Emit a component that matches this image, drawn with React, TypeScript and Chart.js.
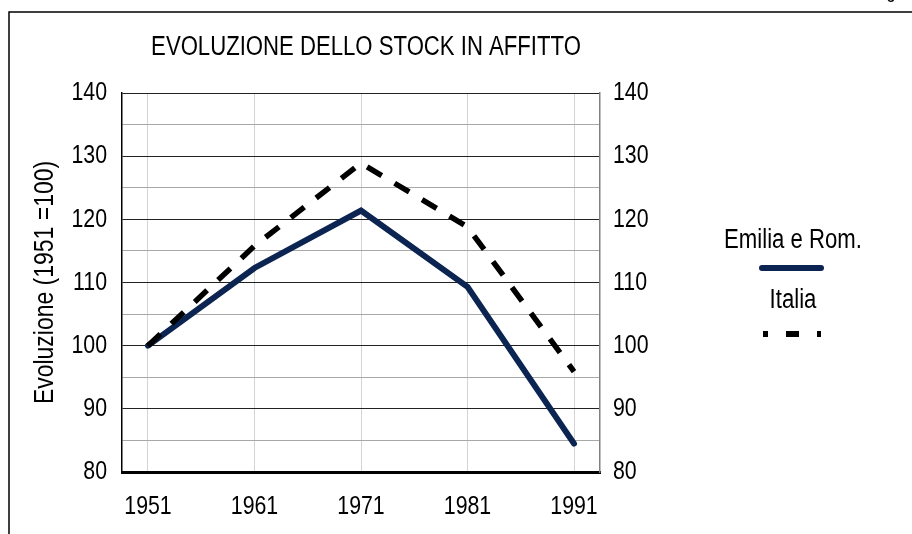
import React, { useEffect, useRef } from "react";
import { Chart, registerables } from "chart.js";

Chart.register(...registerables);

const years = [1951, 1961, 1971, 1981, 1991];
const emilia = [100, 112.3, 121.4, 109.3, 84.5];
const italia = [100, 115.8, 128.9, 118.8, 95.9];
const yTicks = [80, 90, 100, 110, 120, 130, 140];
const chartTitle = "EVOLUZIONE DELLO STOCK IN AFFITTO";
const yTitle = "Evoluzione (1951 =100)";
const seriesNames = ["Emilia e Rom.", "Italia"];

const FONT = '"Liberation Sans", Arial, sans-serif';
const NAVY = "#0c2451";
const CONDENSE = 0.82;

function narrowFill(c: CanvasRenderingContext2D, text: string, x: number, y: number) {
  const w = c.measureText(text).width * CONDENSE;
  CanvasRenderingContext2D.prototype.fillText.call(c, text, x, y, w);
}

export default function App() {
  const ref = useRef<HTMLCanvasElement | null>(null);

  useEffect(() => {
    const canvas = ref.current;
    if (!canvas) return;

    const narrowText = {
      id: "narrowText",
      beforeDraw(chart: any) {
        const c = chart.ctx;
        const orig = CanvasRenderingContext2D.prototype.fillText;
        c.fillText = function (text: string, x: number, y: number, maxWidth?: number) {
          const w = this.measureText(text).width * CONDENSE;
          const mw = maxWidth === undefined ? w : Math.min(maxWidth, w);
          if (mw > 0) orig.call(this, text, x, y, mw);
          else orig.call(this, text, x, y);
        };
      },
      afterDraw(chart: any) {
        delete chart.ctx.fillText;
      },
    };

    const decor = {
      id: "decor",
      beforeDraw(chart: any) {
        const c = chart.ctx;
        c.save();
        c.strokeStyle = "#000";
        c.lineWidth = 1.5;
        c.beginPath();
        c.moveTo(9, 534);
        c.lineTo(9, 12);
        c.lineTo(912, 12);
        c.stroke();
        c.fillStyle = "#000";
        c.textAlign = "center";
        c.textBaseline = "alphabetic";
        c.font = `20px ${FONT}`;
        narrowFill(c, "g", 891, -2);
        c.restore();
      },
      afterDraw(chart: any) {
        const c = chart.ctx;
        const a = chart.chartArea;
        c.save();
        c.fillStyle = "#000";
        c.textAlign = "center";
        c.textBaseline = "middle";
        c.font = `27px ${FONT}`;
        narrowFill(c, chartTitle, (a.left + a.right) / 2 + 5, 48);
        // legend
        const lx = 793;
        narrowFill(c, seriesNames[0], lx, 241);
        narrowFill(c, seriesNames[1], lx, 301);
        c.lineWidth = 6;
        c.strokeStyle = NAVY;
        c.lineCap = "round";
        c.beginPath();
        c.moveTo(762, 268);
        c.lineTo(821, 268);
        c.stroke();
        c.strokeStyle = "#000";
        c.lineCap = "butt";
        c.setLineDash([13, 18]);
        c.lineDashOffset = 8;
        c.beginPath();
        c.moveTo(763, 334);
        c.lineTo(821, 334);
        c.stroke();
        c.restore();
      },
    };

    const tickCb = (v: any) => (yTicks.includes(Number(v)) ? String(v) : "");

    const chart = new Chart(canvas, {
      type: "line",
      data: {
        datasets: [
          {
            label: seriesNames[1],
            data: years.map((y, i) => ({ x: y, y: italia[i] })),
            borderColor: "#000",
            borderWidth: 5.5,
            borderDash: [17, 15],
            borderCapStyle: "butt",
            pointRadius: 0,
            tension: 0,
            fill: false,
          },
          {
            label: seriesNames[0],
            data: years.map((y, i) => ({ x: y, y: emilia[i] })),
            borderColor: NAVY,
            borderWidth: 6,
            borderCapStyle: "round",
            borderJoinStyle: "miter",
            pointRadius: 0,
            tension: 0,
            fill: false,
          },
        ],
      },
      options: {
        responsive: false,
        animation: false,
        devicePixelRatio: 1,
        layout: { padding: { top: 93, left: 0, right: 0, bottom: 0 } },
        plugins: {
          legend: { display: false },
          title: { display: false },
          tooltip: { enabled: false },
        },
        scales: {
          x: {
            type: "linear",
            position: "bottom",
            min: 1948.56,
            max: 1993.44,
            afterBuildTicks: (s: any) => {
              s.ticks = years.map((v) => ({ value: v }));
            },
            afterFit: (s: any) => {
              s.height = 62;
            },
            grid: { color: "#d4d4d4", lineWidth: 1, drawTicks: false },
            border: { color: "#000", width: 3 },
            ticks: {
              callback: (v: any) => String(v),
              color: "#000",
              font: { family: FONT, size: 26 },
              padding: 19,
              maxRotation: 0,
              autoSkip: false,
            },
          },
          y: {
            position: "left",
            min: 80,
            max: 140,
            afterFit: (s: any) => {
              s.width = 122;
            },
            grid: {
              drawTicks: false,
              lineWidth: 1,
              color: (ctx: any) =>
                ctx.tick && ctx.tick.value % 10 === 0 ? "#222" : "#a8a8a8",
            },
            border: { color: "#000", width: 1.5 },
            ticks: {
              stepSize: 5,
              autoSkip: false,
              callback: tickCb,
              color: "#000",
              font: { family: FONT, size: 26 },
              padding: 15,
            },
            title: {
              display: true,
              text: yTitle,
              color: "#000",
              font: { family: FONT, size: 28 },
              padding: { top: 28, bottom: 0 },
            },
          },
          y2: {
            position: "right",
            min: 80,
            max: 140,
            afterFit: (s: any) => {
              s.width = 312;
            },
            grid: { display: false, drawTicks: false },
            border: { color: "#808080", width: 1.5 },
            ticks: {
              stepSize: 5,
              autoSkip: false,
              callback: tickCb,
              color: "#000",
              font: { family: FONT, size: 26 },
              padding: 13,
            },
          },
        },
      },
      plugins: [narrowText, decor],
    } as any);

    return () => chart.destroy();
  }, []);

  return (
    <div style={{ position: "fixed", left: 0, top: 0, width: 912, height: 534, background: "#fff" }}>
      <canvas ref={ref} width={912} height={534} style={{ width: 912, height: 534, display: "block" }} />
    </div>
  );
}
